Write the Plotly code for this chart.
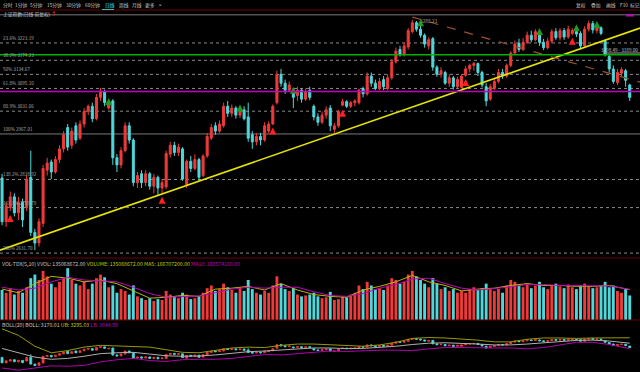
import plotly.graph_objects as go

# ---------------- data ----------------
opens = [2843,2720,2760,2790,2745,2775,2760,2845,2690,2660,
         2715,2865,2888,2860,2895,2925,2985,2935,2990,2955,
         2995,3030,3045,3010,3070,3085,3040,3060,2900,2880,
         2920,2990,2950,2830,2855,2830,2855,2820,2845,2815,
         2818,2910,2935,2915,2925,2825,2890,2870,2895,2850,
         2905,2955,2990,2975,2990,3045,3025,3040,3020,3035,
         3015,2965,2945,2960,2950,2975,2995,3055,3135,3110,
         3090,3085,3075,3090,3065,3090,3045,3015,3000,3020,
         3040,2980,2990,3048,3058,3045,3055,3055,3095,3080,
         3130,3110,3095,3120,3095,3125,3170,3205,3190,3212,
         3255,3280,3262,3245,3215,3235,3155,3135,3140,3110,
         3125,3100,3098,3132,3150,3160,3165,3140,3100,3065,
         3095,3115,3140,3130,3160,3195,3222,3205,3225,3245,
         3232,3245,3225,3210,3228,3255,3238,3258,3240,3250,
         3255,3250,3215,3262,3278,3258,3266,3228,3185,3150,
         3112,3138,3145,3105]
highs = [2855,2775,2805,2800,2790,2785,2850,2920,2700,2730,
         2880,2900,2895,2905,2935,2975,2995,2985,3000,3005,
         3040,3050,3055,3080,3097,3092,3058,3065,2910,2930,
         3000,3000,2955,2860,2865,2865,2860,2855,2850,2840,
         2920,2945,2945,2940,2930,2895,2905,2910,2900,2910,
         2970,2995,3000,3005,3055,3060,3050,3045,3040,3045,
         3055,2975,2970,2970,3000,3003,3050,3145,3150,3120,
         3115,3090,3100,3095,3095,3100,3050,3025,3030,3045,
         3048,2998,3035,3065,3062,3060,3065,3095,3100,3140,
         3140,3120,3125,3130,3135,3178,3210,3215,3225,3265,
         3288.21,3285,3275,3250,3240,3240,3160,3155,3145,3135,
         3130,3128,3135,3158,3165,3170,3168,3145,3110,3108,
         3125,3150,3150,3165,3200,3230,3235,3237,3255,3258,
         3262,3250,3235,3238,3262,3265,3265,3265,3272,3265,
         3262,3256,3270,3286,3285,3270,3270,3232,3190,3160,
         3150,3155,3150,3108]
lows = [2710,2705,2750,2735,2725,2705,2750,2680,2640,2650,
        2705,2850,2840,2855,2885,2915,2920,2925,2940,2950,
        2985,3020,3000,3005,3060,3045,3035,2880,2860,2870,
        2915,2940,2820,2815,2815,2820,2810,2800,2795,2800,
        2812,2900,2905,2905,2835,2815,2860,2865,2835,2845,
        2900,2950,2965,2970,2985,3015,3015,3010,3012,3005,
        2945,2925,2935,2935,2945,2968,2992,3050,3100,3080,
        3085,3040,3060,3055,3060,3062,3005,2990,2995,3010,
        2975,2970,2985,3045,3040,3040,3045,3050,3070,3075,
        3100,3090,3090,3090,3090,3120,3165,3185,3185,3205,
        3250,3255,3238,3210,3205,3145,3128,3125,3105,3100,
        3092,3095,3095,3128,3140,3145,3130,3098,3045,3060,
        3090,3110,3122,3125,3155,3190,3198,3200,3220,3225,
        3228,3215,3203,3205,3222,3232,3230,3232,3235,3245,
        3240,3205,3210,3255,3250,3250,3245,3185,3140,3108,
        3105,3128,3100,3060]
closes = [2720,2765,2790,2745,2775,2725,2840,2690,2660,2720,
          2870,2885,2860,2895,2925,2965,2930,2975,2950,2995,
          3030,3045,3010,3070,3088,3055,3052,2900,2880,2920,
          2990,2950,2830,2850,2830,2855,2820,2845,2815,2830,
          2912,2935,2915,2930,2840,2890,2870,2895,2845,2905,
          2960,2985,2975,2995,3045,3025,3040,3020,3035,3010,
          2955,2945,2960,2950,2990,2995,3045,3135,3110,3090,
          3105,3070,3090,3065,3085,3070,3015,3000,3020,3035,
          2990,2990,3030,3058,3045,3055,3060,3090,3080,3130,
          3110,3095,3115,3100,3125,3170,3200,3190,3215,3258,
          3280,3262,3245,3220,3232,3155,3135,3145,3110,3125,
          3100,3120,3130,3150,3160,3165,3140,3105,3060,3100,
          3115,3140,3130,3160,3195,3220,3205,3225,3245,3232,
          3255,3225,3210,3228,3255,3238,3258,3240,3262,3258,
          3248,3215,3262,3278,3260,3266,3250,3190,3150,3115,
          3140,3148,3118,3070]
volumes_m = [165,150,175,140,160,150,180,230,250,220,
             270,240,200,180,210,230,285,220,200,190,
             210,170,200,230,250,235,180,190,150,170,
             160,140,190,130,120,110,120,105,115,110,
             160,140,130,120,150,140,115,120,130,150,
             175,190,160,170,200,180,165,150,180,160,
             220,170,150,140,160,150,190,240,200,170,
             160,175,140,130,135,140,150,130,120,125,
             155,110,115,130,125,140,150,190,170,210,
             190,170,175,165,190,230,220,200,210,250,
             270,240,220,200,180,230,200,170,180,160,
             170,150,160,150,170,180,165,175,200,170,
             160,170,150,190,220,210,190,180,200,175,
             190,210,180,170,190,200,185,175,195,180,
             170,190,200,185,175,180,190,210,180,190,
             160,150,170,135.068672]

# indicator lines read every 4th bar (plus the last bar)
ind_idx = list(range(0, 149, 4)) + [153]
vol_ma5_m = [170,150,200,240,230,210,220,200,160,120,125,135,130,170,175,
             185,165,200,165,140,130,125,165,185,210,245,210,190,160,170,
             175,190,200,190,190,185,185,190,166.7072]
vol_ma10_m = [180,165,175,210,235,220,215,210,180,145,125,130,132,150,170,
              180,175,180,180,155,135,130,145,175,195,225,230,200,175,165,
              172,182,195,195,190,188,185,187,168.57416]
boll_mid = [3050,2950,2850,2800,2820,2870,2930,2950,2960,2920,2880,2870,2875,
            2900,2940,2975,2990,3010,3040,3060,3060,3045,3050,3070,3100,3140,
            3170,3180,3170,3150,3130,3130,3150,3180,3210,3235,3240,3220,3170.01]
boll_ub = [3500,3350,3100,2950,3000,3080,3120,3110,3100,3080,3020,2960,2950,
           3000,3060,3080,3070,3120,3150,3150,3130,3110,3100,3130,3190,3280,
           3300,3290,3270,3240,3200,3200,3260,3290,3290,3280,3290,3300,3295.03]
boll_lb = [2600,2550,2600,2650,2640,2660,2740,2790,2820,2770,2750,2790,2800,
           2800,2820,2870,2910,2900,2930,2970,2990,2980,3000,3010,3010,3000,
           3040,3070,3070,3060,3060,3060,3040,3070,3130,3190,3190,3140,3044.99]

# Fibonacci levels
fib_pcts = ["0%", "23.6%", "38.2%", "50%", "61.8%", "80.9%", "100%", "138.2%", "161.8%", "200%"]
fib_prices = [3302.32, 3223.19, 3174.23, 3134.67, 3095.10, 3031.06, 2967.01, 2838.92, 2759.79, 2631.70]
fib_solid = ["0%", "100%"]

green_level = 3190.0
magenta_level = 3086.5
trend_x = [-0.5, 155.5]
trend_y = [2640, 3265]
down_x = [100.0, 155.5]
down_y = [3296, 3113]
peak_label = "3288.21"

buy_idx = [2, 39, 66, 83, 113, 139]
buy_price = [2739, 2790, 2985, 3035, 3122, 3238]
sell_idx = [26, 58, 71, 102, 131, 140, 145]
sell_price = [3068, 3050, 3100, 3290, 3265, 3276, 3285]

menu_left = ["分时", "1分钟", "5分钟", "15分钟", "30分钟", "60分钟", "日线", "周线", "月线", "更多", ">"]
menu_left_x = [1, 13, 28, 45, 64, 83, 103, 117, 130, 143, 157]
menu_right = ["复权", "叠加", "画线", "F10", "标记"]
menu_right_x = [574, 589, 604, 618, 628]

# ---------------- style ----------------
W, H = 640, 372
RED = "#f03a3a"
CYAN = "#4fd8dc"
DARKRED = "#6a0000"
FONT = "Noto Sans CJK SC, DejaVu Sans, sans-serif"

def py(ypx):
    return 1 - ypx / H

bars = list(range(len(closes)))
n = len(closes)
xr = [-0.5, n + 1.5]

main_dom = [py(258), py(10)]
vol_dom = [py(320), py(258)]
boll_dom = [0.0, py(320)]

fig = go.Figure()

fig.add_trace(go.Candlestick(
    x=bars, open=opens, high=highs, low=lows, close=closes,
    increasing=dict(line=dict(color=RED, width=1), fillcolor=RED),
    decreasing=dict(line=dict(color=CYAN, width=1), fillcolor=CYAN),
    whiskerwidth=0, xaxis="x", yaxis="y", showlegend=False, hoverinfo="skip"))

fig.add_trace(go.Scatter(x=trend_x, y=trend_y, mode="lines",
                         line=dict(color="#e6e600", width=1.6), yaxis="y",
                         showlegend=False, hoverinfo="skip"))
fig.add_trace(go.Scatter(x=down_x, y=down_y, mode="lines",
                         line=dict(color="#a0522d", width=1.2, dash="dash"), yaxis="y",
                         showlegend=False, hoverinfo="skip"))

fig.add_trace(go.Scatter(x=buy_idx, y=buy_price, mode="markers",
                         marker=dict(symbol="arrow-up", size=7, color="#ff2020"),
                         yaxis="y", showlegend=False, hoverinfo="skip"))
fig.add_trace(go.Scatter(x=sell_idx, y=sell_price, mode="markers",
                         marker=dict(symbol="arrow-up", size=7, color="#1f9a1f"),
                         yaxis="y", showlegend=False, hoverinfo="skip"))

vol = [v * 1e6 for v in volumes_m]
vcolors = [RED if c >= o else CYAN for o, c in zip(opens, closes)]
fig.add_trace(go.Bar(x=bars, y=vol, marker=dict(color=vcolors, line=dict(width=0)),
                     yaxis="y2", showlegend=False, hoverinfo="skip"))
fig.add_trace(go.Scatter(x=ind_idx, y=[v * 1e6 for v in vol_ma5_m], mode="lines",
                         line=dict(color="#b8b800", width=1), yaxis="y2",
                         showlegend=False, hoverinfo="skip"))
fig.add_trace(go.Scatter(x=ind_idx, y=[v * 1e6 for v in vol_ma10_m], mode="lines",
                         line=dict(color="#c000c0", width=1), yaxis="y2",
                         showlegend=False, hoverinfo="skip"))

fig.add_trace(go.Candlestick(
    x=bars, open=opens, high=highs, low=lows, close=closes,
    increasing=dict(line=dict(color=RED, width=0.8), fillcolor=RED),
    decreasing=dict(line=dict(color=CYAN, width=0.8), fillcolor=CYAN),
    whiskerwidth=0, xaxis="x", yaxis="y3", showlegend=False, hoverinfo="skip"))
fig.add_trace(go.Scatter(x=ind_idx, y=boll_ub, mode="lines",
                         line=dict(color="#9a9a00", width=1), yaxis="y3",
                         showlegend=False, hoverinfo="skip"))
fig.add_trace(go.Scatter(x=ind_idx, y=boll_mid, mode="lines",
                         line=dict(color="#b0b0b0", width=1), yaxis="y3",
                         showlegend=False, hoverinfo="skip"))
fig.add_trace(go.Scatter(x=ind_idx, y=boll_lb, mode="lines",
                         line=dict(color="#b000b0", width=1), yaxis="y3",
                         showlegend=False, hoverinfo="skip"))

shapes = []
for pct, price in zip(fib_pcts, fib_prices):
    solid = pct in fib_solid
    shapes.append(dict(type="line", xref="paper", x0=0, x1=1, yref="y", y0=price, y1=price,
                       line=dict(color="#7a7a7a" if solid else "#8a8a8a", width=1,
                                 dash="solid" if solid else "dot"), layer="below"))
shapes.append(dict(type="line", xref="paper", x0=0, x1=1, yref="y", y0=green_level, y1=green_level,
                   line=dict(color="#00b000", width=1.5)))
shapes.append(dict(type="line", xref="paper", x0=0, x1=1, yref="y", y0=magenta_level, y1=magenta_level,
                   line=dict(color="#c000c0", width=1.3)))
for ypx in [10, 258, 320]:
    shapes.append(dict(type="line", xref="paper", x0=0, x1=1, yref="paper", y0=py(ypx), y1=py(ypx),
                       line=dict(color=DARKRED, width=1)))
shapes.append(dict(type="line", xref="paper", x0=102 / W, x1=114 / W, yref="paper",
                   y0=py(9.5), y1=py(9.5), line=dict(color="#30c0c0", width=1)))
shapes.append(dict(type="line", xref="paper", x0=626 / W, x1=634 / W, yref="paper",
                   y0=py(15.5), y1=py(15.5), line=dict(color="#c000c0", width=2)))
shapes.append(dict(type="line", xref="paper", x0=603 / W, x1=1, yref="paper",
                   y0=py(53), y1=py(53), line=dict(color="#a0a0a0", width=1)))

ann = []
for pct, price in zip(fib_pcts, fib_prices):
    if pct == "0%":
        continue
    ann.append(dict(xref="paper", x=0.002, xanchor="left", yref="y", y=price, yanchor="bottom",
                    text=f"{pct} {price:.2f}", showarrow=False,
                    font=dict(size=4.6, color="#a8a8a8", family=FONT)))
for t, xp in zip(menu_left, menu_left_x):
    ann.append(dict(xref="paper", x=xp / W, xanchor="left", yref="paper", y=py(5), yanchor="middle",
                    text=t, showarrow=False,
                    font=dict(size=4.8, color="#40e0e0" if t == "日线" else "#c8c8c8", family=FONT)))
for t, xp in zip(menu_right, menu_right_x):
    ann.append(dict(xref="paper", x=xp / W, xanchor="left", yref="paper", y=py(5), yanchor="middle",
                    text=t, showarrow=False, font=dict(size=4.8, color="#c8c8c8", family=FONT)))
ann.append(dict(xref="paper", x=0.5 / W, xanchor="left", yref="paper", y=py(14), yanchor="middle",
                text="上证指数(日线 前复权)", showarrow=False,
                font=dict(size=4.8, color="#c8c8c8", family=FONT)))
ann.append(dict(xref="paper", x=49 / W, xanchor="left", yref="paper", y=py(14), yanchor="middle",
                text="<b>↑</b>", showarrow=False, font=dict(size=5.5, color="#ff2020", family=FONT)))
ann.append(dict(xref="x", x=101.4, xanchor="left", yref="y", y=float(peak_label) - 2,
                yanchor="middle", text=peak_label, showarrow=False,
                font=dict(size=4.8, color="#a8a8a8", family=FONT)))
ann.append(dict(xref="paper", x=1.0, xanchor="right", yref="paper", y=py(49.5), yanchor="middle",
                text="3198.49 - 3189.00", showarrow=False,
                font=dict(size=4.6, color="#c8c8c8", family=FONT)))
vol_hdr = ("<span style='color:#c8c8c8'>VOL-TDX(5,10) VVOL: 135068672.00 </span>"
           "<span style='color:#c8c800'>VOLUME: 135068672.00 MA5: 166707200.00 </span>"
           "<span style='color:#c000c0'>MA10: 168574160.00</span>")
ann.append(dict(xref="paper", x=0, xanchor="left", yref="paper", y=py(263), yanchor="middle",
                text=vol_hdr, showarrow=False, font=dict(size=5.2, family=FONT)))
boll_hdr = ("<span style='color:#c8c8c8'>BOLL(20) BOLL: 3170.01 </span>"
            "<span style='color:#c8c800'>UB: 3295.03 </span>"
            "<span style='color:#c000c0'>LB: 3044.99</span>")
ann.append(dict(xref="paper", x=0, xanchor="left", yref="paper", y=py(324), yanchor="middle",
                text=boll_hdr, showarrow=False, font=dict(size=5.2, family=FONT)))

hid = dict(showgrid=False, zeroline=False, showticklabels=False, ticks="", showline=False)
fig.update_layout(
    width=W, height=H, margin=dict(l=0, r=0, t=0, b=0, autoexpand=False),
    paper_bgcolor="#000000", plot_bgcolor="#000000",
    showlegend=False, bargap=0.3,
    xaxis=dict(range=xr, domain=[0, 1], rangeslider=dict(visible=False), anchor="y3", **hid),
    yaxis=dict(range=[2617.9, 3315.9], domain=main_dom, anchor="x", **hid),
    yaxis2=dict(range=[0, 341e6], domain=vol_dom, anchor="x", **hid),
    yaxis3=dict(range=[2508, 3703], domain=boll_dom, anchor="x", **hid),
    shapes=shapes, annotations=ann,
)

fig.write_html("out.html", config={"displayModeBar": False},
               post_script="document.body.style.margin='0';document.body.style.background='#000';")
